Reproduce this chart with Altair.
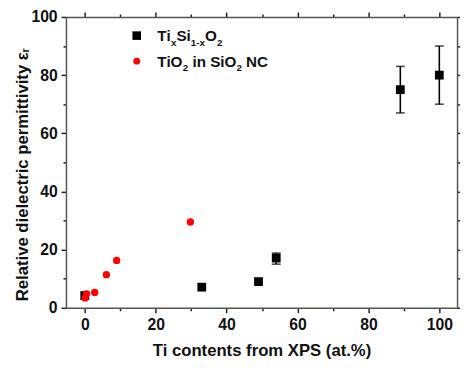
import altair as alt
import pandas as pd

# ---------------- data ----------------
# Ti_xSi_(1-x)O_2 (black squares)
mix_x = [0, 33, 49, 54, 89, 100]
mix_y = [4.2, 7.1, 9.0, 17.1, 75.0, 80.0]
# error bars for the Ti_xSi_(1-x)O_2 points that show them
err_x = [54, 89, 100]
err_lo = [15.0, 67.0, 70.0]
err_hi = [18.8, 83.0, 90.0]
# TiO2 in SiO2 nanocomposite (red circles)
nc_x = [0.1, 0.5, 2.8, 6.1, 9.0, 29.8]
nc_y = [3.4, 4.8, 5.3, 11.4, 16.3, 29.5]

x_ticks = [0, 10, 20, 30, 40, 50, 60, 70, 80, 90, 100]
y_ticks = [0, 10, 20, 30, 40, 50, 60, 70, 80, 90, 100]

x_title = "Ti contents from XPS (at.%)"
y_title = "Relative dielectric permittivity εᵣ"

# ---------------- layout ----------------
W, H = 398, 296
FONT = "Liberation Sans"
XDOM = [-5.3, 105]
YDOM = [0, 100]

df_mix = pd.DataFrame({"x": mix_x, "y": mix_y})
df_err = pd.DataFrame({"x": err_x, "lo": err_lo, "hi": err_hi})
df_nc = pd.DataFrame({"x": nc_x, "y": nc_y})

tick_size = {"condition": {"test": "datum.value % 20 == 0", "value": 5}, "value": 3}
label_expr = "datum.value % 20 == 0 ? datum.label : ''"

common_axis = dict(
    values=x_ticks,
    tickSize=tick_size,
    tickWidth=1.5,
    tickColor="#222",
    domainColor="#555",
    domainWidth=1.5,
    grid=False,
    labelOverlap=False,
    labelFlush=False,
)

xs = alt.Scale(domain=XDOM, nice=False, zero=False)
ys = alt.Scale(domain=YDOM, nice=False, zero=False)

x_main = alt.X("x:Q", scale=xs, axis=alt.Axis(
    orient="bottom", labelExpr=label_expr, labelFont=FONT, labelFontSize=16,
    labelFontWeight="bold", labelColor="#111", labelPadding=4.5,
    title=x_title, titleFont=FONT, titleFontSize=17, titleFontWeight="bold",
    titleColor="#111", titleY=36, **common_axis))

y_axis_opts = dict(common_axis)
y_axis_opts["values"] = y_ticks

y_main = alt.Y("lo:Q", scale=ys, axis=alt.Axis(
    orient="left", labelExpr=label_expr, labelFont=FONT, labelFontSize=16,
    labelFontWeight="bold", labelColor="#111", labelPadding=4,
    title=y_title, titleFont=FONT, titleFontSize=17, titleFontWeight="bold",
    titleColor="#111", titleX=-35, titleY=160, **y_axis_opts))

# error bar stems (carry the main axes)
stems = alt.Chart(df_err).mark_rule(color="black", strokeWidth=1.6).encode(
    x=x_main, y=y_main, y2="hi:Q")

caps_lo = alt.Chart(df_err).mark_tick(color="black", orient="horizontal", size=9, thickness=1.6).encode(
    x=alt.X("x:Q", scale=xs, axis=None), y=alt.Y("lo:Q", scale=ys, axis=None))
caps_hi = alt.Chart(df_err).mark_tick(color="black", orient="horizontal", size=9, thickness=1.6).encode(
    x=alt.X("x:Q", scale=xs, axis=None), y=alt.Y("hi:Q", scale=ys, axis=None))

squares = alt.Chart(df_mix).mark_square(color="black", opacity=1, size=80).encode(
    x=alt.X("x:Q", scale=xs, axis=None), y=alt.Y("y:Q", scale=ys, axis=None))

circles = alt.Chart(df_nc).mark_circle(color="#ff0000", opacity=1, size=56).encode(
    x=alt.X("x:Q", scale=xs, axis=None), y=alt.Y("y:Q", scale=ys, axis=None))

# top / right frame axes (ticks only)
frame_x_opts = dict(common_axis)
frame_y_opts = dict(common_axis)
frame_y_opts["values"] = y_ticks
frame = alt.Chart(df_mix).mark_point(opacity=0).encode(
    x=alt.X("x:Q", scale=xs, axis=alt.Axis(orient="top", labels=False, title=None, **frame_x_opts)),
    y=alt.Y("y:Q", scale=ys, axis=alt.Axis(orient="right", labels=False, title=None, **frame_y_opts)),
)

# ---------------- legend (manual, pixel placed) ----------------
leg_sq = alt.Chart(pd.DataFrame({"a": [0]})).mark_square(color="black", opacity=1, size=76).encode(
    x=alt.value(72), y=alt.value(19))
leg_ci = alt.Chart(pd.DataFrame({"a": [0]})).mark_circle(color="#ff0000", opacity=1, size=48).encode(
    x=alt.value(72), y=alt.value(45))

leg_main = [("Ti", 93, 24), ("Si", 112.4, 24), ("O", 141.5, 24),
            ("TiO", 93, 50.5), ("in SiO", 128.7, 50.5), ("NC", 183.3, 50.5)]
leg_sub = [("x", 106.8, 29.5), ("1-x", 127, 29.5), ("2", 153.6, 29.5),
           ("2", 118.8, 55.5), ("2", 173.5, 55.5)]

def seg_layer(items, size):
    layers = []
    for t, px, py in items:
        layers.append(
            alt.Chart(pd.DataFrame({"t": [t]})).mark_text(
                font=FONT, fontSize=size, fontWeight="bold", color="#111",
                align="left", baseline="alphabetic").encode(
                text="t:N", x=alt.value(px), y=alt.value(py)))
    return layers

legend_layers = [leg_sq, leg_ci] + seg_layer(leg_main, 15.5) + seg_layer(leg_sub, 10)

chart = alt.layer(stems, caps_lo, caps_hi, squares, circles, frame, *legend_layers).resolve_axis(
    x="independent", y="independent"
).properties(
    width=W, height=H,
    autosize=alt.AutoSizeParams(type="none"),
    padding={"left": 59, "top": 6, "right": 3, "bottom": 50},
).configure_view(stroke=None).configure(background="white")

chart.save("out.html", embed_options={"renderer": "svg", "actions": False})
